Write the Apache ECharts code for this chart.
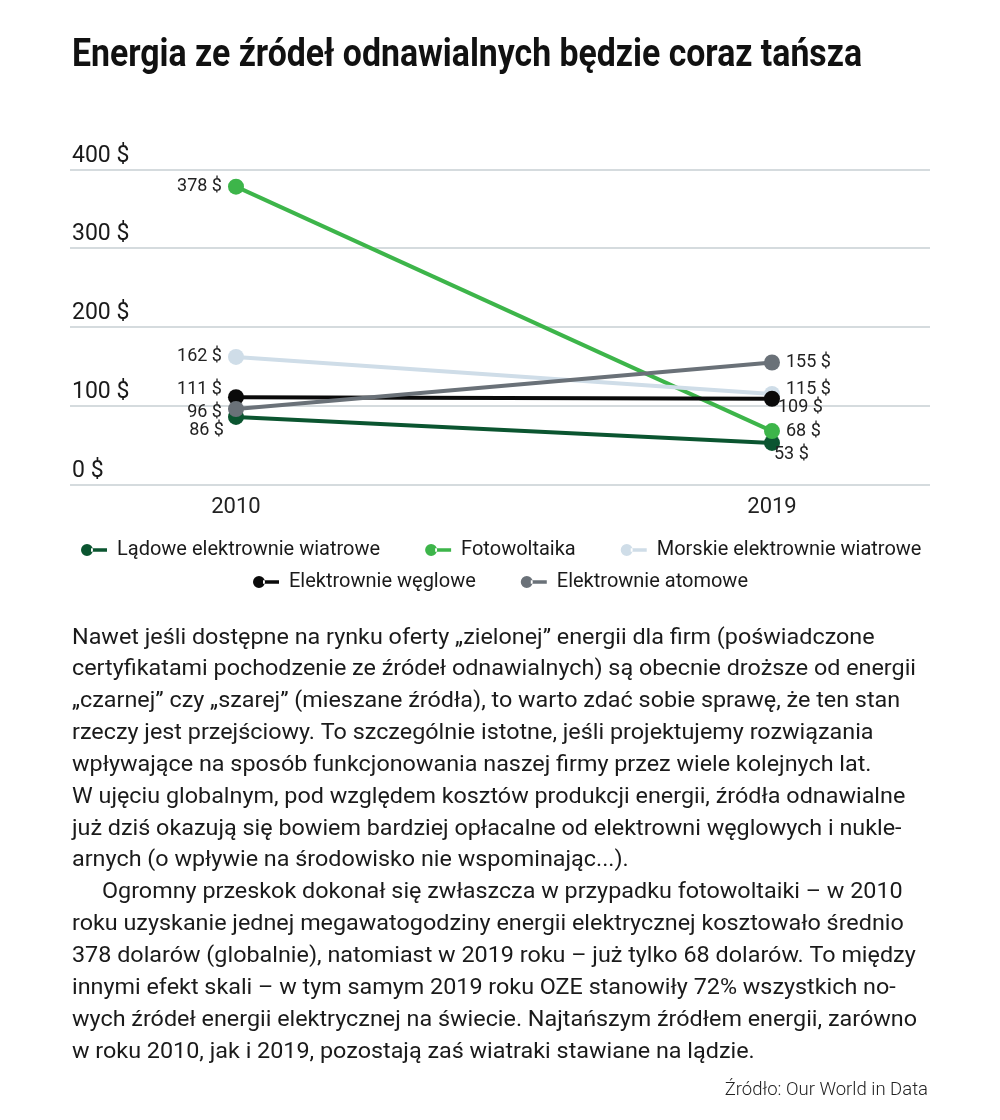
<!DOCTYPE html>
<html><head><meta charset="utf-8">
<script src="https://cdn.jsdelivr.net/npm/echarts@6/dist/echarts.min.js"></script>
<style>html,body{margin:0;padding:0;background:#fff}#c{width:1000px;height:1120px}</style>
</head><body><div id="c"></div>
<script>
const title = 'Energia ze źródeł odnawialnych będzie coraz tańsza';
const years = [2010, 2019];
const seriesNames = ['Lądowe elektrownie wiatrowe', 'Fotowoltaika', 'Morskie elektrownie wiatrowe', 'Elektrownie węglowe', 'Elektrownie atomowe'];
const onshoreWind = [86, 53];
const solar = [378, 68];
const offshoreWind = [162, 115];
const coal = [111, 109];
const nuclear = [96, 155];
const yMin = 0, yMax = 400, yStep = 100;
const legendRow1 = ['Lądowe elektrownie wiatrowe', 'Fotowoltaika', 'Morskie elektrownie wiatrowe'];
const legendRow2 = ['Elektrownie węglowe', 'Elektrownie atomowe'];
const bodyLines = [
  'Nawet jeśli dostępne na rynku oferty „zielonej” energii dla firm (poświadczone',
  'certyfikatami pochodzenie ze źródeł odnawialnych) są obecnie droższe od energii',
  '„czarnej” czy „szarej” (mieszane źródła), to warto zdać sobie sprawę, że ten stan',
  'rzeczy jest przejściowy. To szczególnie istotne, jeśli projektujemy rozwiązania',
  'wpływające na sposób funkcjonowania naszej firmy przez wiele kolejnych lat.',
  'W ujęciu globalnym, pod względem kosztów produkcji energii, źródła odnawialne',
  'już dziś okazują się bowiem bardziej opłacalne od elektrowni węglowych i nukle-',
  'arnych (o wpływie na środowisko nie wspominając...).',
  'Ogromny przeskok dokonał się zwłaszcza w przypadku fotowoltaiki – w 2010',
  'roku uzyskanie jednej megawatogodziny energii elektrycznej kosztowało średnio',
  '378 dolarów (globalnie), natomiast w 2019 roku – już tylko 68 dolarów. To między',
  'innymi efekt skali – w tym samym 2019 roku OZE stanowiły 72% wszystkich no-',
  'wych źródeł energii elektrycznej na świecie. Najtańszym źródłem energii, zarówno',
  'w roku 2010, jak i 2019, pozostają zaś wiatraki stawiane na lądzie.'
];
const sourceText = 'Źródło: Our World in Data';

// ---- styling / layout ----
const colors = ['#0b5530', '#3db54a', '#cfdde8', '#0a0a0a', '#6a7178'];
const seriesValues = [onshoreWind, solar, offshoreWind, coal, nuclear];
const labelLayout = [
  [{position: 'left', offset: [2, 14]}, {position: 'right', offset: [-12, 12]}],
  [{position: 'left'}, {position: 'right'}],
  [{position: 'left'}, {position: 'right', offset: [0, -5]}],
  [{position: 'left', offset: [0, -8]}, {position: 'right', offset: [-8, 9]}],
  [{position: 'left', offset: [0, 3]}, {position: 'right'}]
];
const FONT = 'Roboto, "Noto Sans", sans-serif';

const mc = document.createElement('canvas').getContext('2d');
function measure(txt, font) { mc.font = font; return mc.measureText(txt).width; }
const titleFont = 'bold 39px Roboto';
const titleScale = 790 / measure(title, titleFont);
const bodyFont = '22px Roboto';
const bodyScale = 844 / measure(bodyLines[1], bodyFont);

const legendIcon = 'path://M0,6a6,6 0 1,0 12,0a6,6 0 1,0 -12,0z M10,4.2h16v3.6h-16z';

const graphics = [];
graphics.push({
  type: 'text', x: 72, y: 56, scaleX: titleScale, originX: 0,
  style: {text: title, font: titleFont, fill: '#111', textVerticalAlign: 'middle'}
});
bodyLines.forEach((ln, i) => {
  graphics.push({
    type: 'text', x: i === 8 ? 102 : 72, y: 638 + i * 31.85, scaleX: bodyScale, originX: 0,
    style: {text: ln, font: bodyFont, fill: '#1a1a1a', textVerticalAlign: 'middle'}
  });
});
graphics.push({
  type: 'text', x: 928, y: 1090,
  style: {text: sourceText, font: '300 18.5px Roboto', fill: '#222', textAlign: 'right', textVerticalAlign: 'middle'}
});

const series = seriesNames.map((name, s) => ({
  name, type: 'line', symbol: 'circle', symbolSize: 16,
  lineStyle: {width: 4, color: colors[s]},
  itemStyle: {color: colors[s]},
  z: 3 + s,
  label: {
    show: true, fontSize: 18, fontFamily: FONT, color: '#222', distance: 6,
    formatter: p => p.value[1] + ' $'
  },
  data: years.map((y, i) => ({value: [y, seriesValues[s][i]], label: labelLayout[s][i]}))
}));

const legendBase = {
  icon: legendIcon, itemWidth: 26, itemHeight: 12, itemGap: 45,
  textStyle: {fontSize: 20, fontFamily: FONT, color: '#1a1a1a', padding: [0, 0, 0, 5]}
};

const chart = echarts.init(document.getElementById('c'), null, {renderer: 'canvas'});
chart.setOption({
  backgroundColor: '#fff',
  animation: false,
  color: colors,
  grid: {left: 70, right: 70, top: 169.3, bottom: 1120 - 484.7, containLabel: false},
  xAxis: {
    type: 'value', min: 2007.213, max: 2021.653,
    splitLine: {show: false}, axisLine: {show: false}, axisTick: {show: false},
    axisLabel: {customValues: years, formatter: v => String(v), fontSize: 22, fontFamily: FONT, color: '#222', margin: 12}
  },
  yAxis: {
    type: 'value', min: yMin, max: yMax, interval: yStep,
    axisLine: {show: false}, axisTick: {show: false},
    splitLine: {lineStyle: {color: '#c7cfd3', width: 1.5}},
    axisLabel: {inside: true, margin: 2, verticalAlign: 'bottom', padding: [0, 0, 2, 0], formatter: '{value} $', fontSize: 23, fontFamily: FONT, color: '#1a1a1a'}
  },
  legend: [
    Object.assign({}, legendBase, {data: legendRow1, left: 76, top: 535}),
    Object.assign({}, legendBase, {data: legendRow2, left: 248, top: 567})
  ],
  graphic: graphics,
  series
});
</script></body></html>
